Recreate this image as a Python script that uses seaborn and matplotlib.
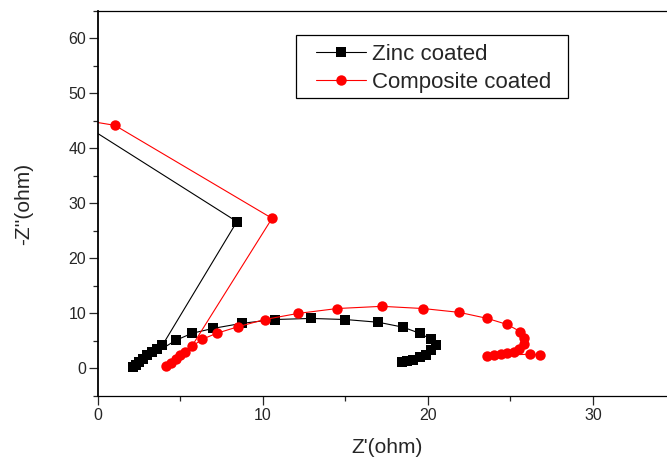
import pandas as pd
import matplotlib
matplotlib.use("Agg")
import matplotlib.pyplot as plt
import seaborn as sns
from matplotlib.ticker import MultipleLocator
from matplotlib.lines import Line2D
from matplotlib.patches import Rectangle

# Nyquist data (Z' and -Z'' in ohm)
zinc_re = [-2.0, 8.42, 3.9, 3.6, 3.3, 3.0, 2.7, 2.5, 2.3, 2.1,
           4.7, 5.7, 7.0, 8.7, 10.7, 12.9, 15.0, 17.0, 18.5, 19.5,
           20.2, 20.5, 20.2, 19.9, 19.5, 19.1, 18.7, 18.4]
zinc_im = [46.5, 26.7, 4.2, 3.6, 3.0, 2.4, 1.8, 1.2, 0.7, 0.3,
           5.1, 6.4, 7.3, 8.2, 8.9, 9.1, 8.9, 8.4, 7.5, 6.4,
           5.3, 4.2, 3.3, 2.5, 2.0, 1.6, 1.3, 1.1]

comp_re = [-3.0, 1.03, 10.55, 5.7, 5.3, 5.0, 4.7, 4.4, 4.1,
           6.3, 7.2, 8.5, 10.1, 12.1, 14.5, 17.2, 19.7, 21.9, 23.6,
           24.8, 25.6, 25.8, 25.8, 25.5, 25.2, 24.8, 24.4, 24.0, 23.6,
           26.2, 26.8]
comp_im = [46.2, 44.2, 27.3, 4.1, 3.0, 2.5, 1.7, 1.0, 0.5,
           5.3, 6.4, 7.6, 8.9, 10.0, 10.9, 11.3, 10.9, 10.2, 9.1,
           8.0, 6.7, 5.5, 4.5, 3.6, 3.0, 2.8, 2.6, 2.4, 2.3,
           2.6, 2.4]

labels = ["Zinc coated", "Composite coated"]

zinc = pd.DataFrame({"re": zinc_re, "im": zinc_im})
comp = pd.DataFrame({"re": comp_re, "im": comp_im})

sns.set_style("ticks")
plt.rcParams["font.family"] = ["Liberation Sans", "DejaVu Sans"]

fig = plt.figure(figsize=(6.67, 4.59), dpi=100)
ax = fig.add_axes([0.1469, 0.1373, 0.8658, 0.8388])

sns.lineplot(x="re", y="im", data=zinc, sort=False, estimator=None, ax=ax,
             color="black", lw=0.8, marker="s", markersize=6.5,
             markeredgewidth=0)
sns.lineplot(x="re", y="im", data=comp, sort=False, estimator=None, ax=ax,
             color="red", lw=0.8, marker="o", markersize=7.5,
             markeredgewidth=0)

ax.set_xlim(0, 35)
ax.set_ylim(-5, 65)
ax.xaxis.set_major_locator(MultipleLocator(10))
ax.xaxis.set_minor_locator(MultipleLocator(5))
ax.yaxis.set_major_locator(MultipleLocator(10))
ax.yaxis.set_minor_locator(MultipleLocator(5))
ax.tick_params(which="major", length=6.5, width=0.9, labelsize=11.5, pad=2)
ax.tick_params(which="minor", length=3.5, width=0.9)
for s in ax.spines.values():
    s.set_color("black")
    s.set_linewidth(0.9)
ax.spines["left"].set_linewidth(1.3)
ax.spines["right"].set_visible(False)

ax.set_xlabel("Z'(ohm)", fontsize=15, labelpad=11)
ax.set_ylabel("-Z''(ohm)", fontsize=15, labelpad=25)

# legend: box drawn separately, entries placed inside it
fig.patches.append(Rectangle((296 / 667, 1 - 98 / 459), 272 / 667, 63 / 459,
                             transform=fig.transFigure, facecolor="white",
                             edgecolor="black", lw=0.9, zorder=3))
handles = [Line2D([], [], color="black", lw=0.8, marker="s", markersize=6.5, markeredgewidth=0),
           Line2D([], [], color="red", lw=0.8, marker="o", markersize=7.5, markeredgewidth=0)]
leg = fig.legend(handles, labels, loc="center left",
                 bbox_to_anchor=(316 / 667, 1 - 68.5 / 459),
                 fontsize=16, frameon=False,
                 handlelength=2.25, handletextpad=0.27, labelspacing=0.3,
                 borderpad=0, borderaxespad=0)
leg.set_zorder(5)

fig.savefig("out.png", dpi=100)
